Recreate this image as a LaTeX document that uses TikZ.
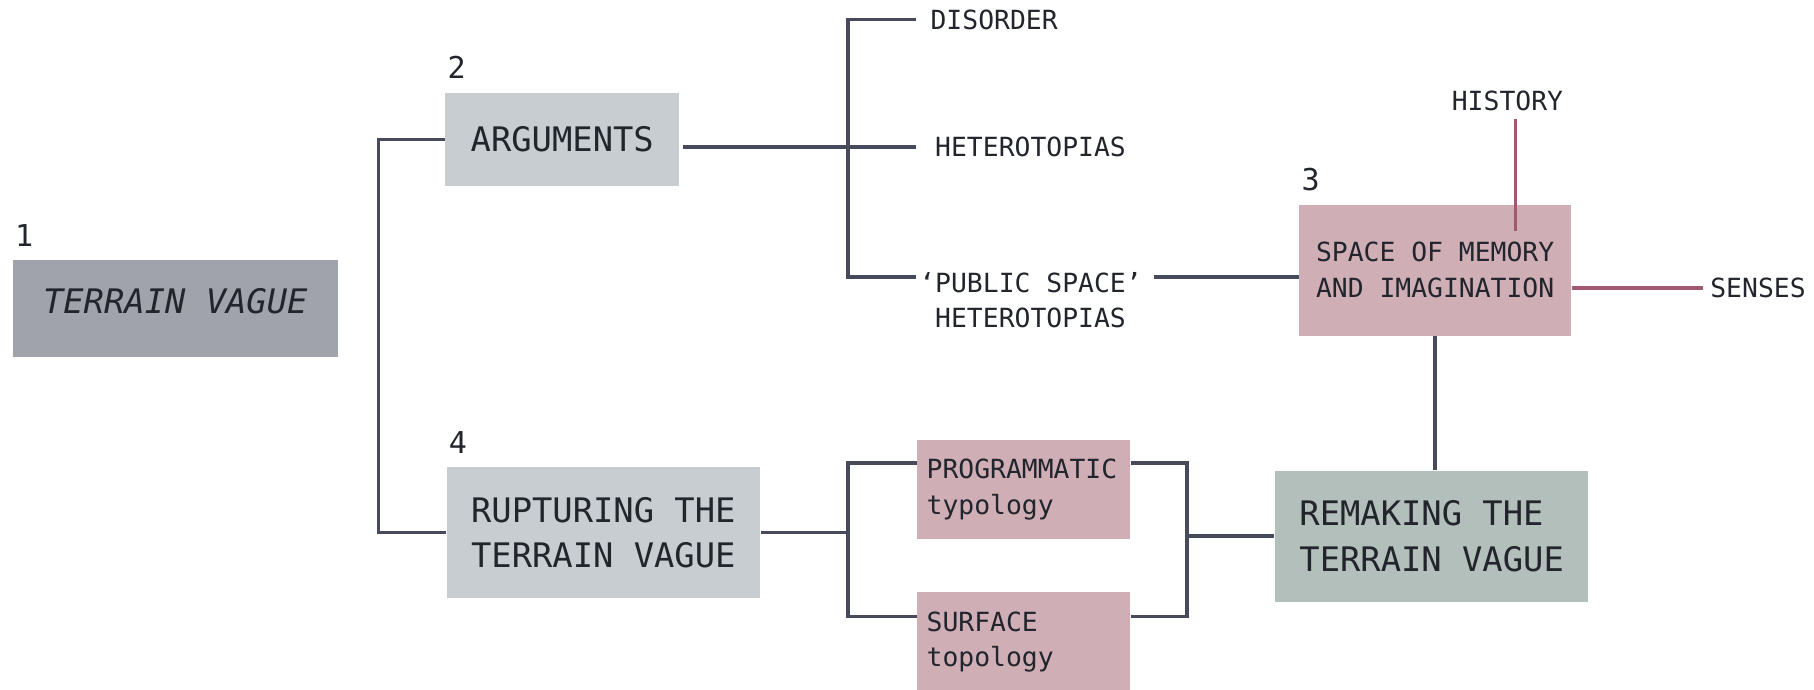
\documentclass[tikz,border=0pt]{standalone}
\usepackage{fontspec}
\setmonofont{DejaVu Sans Mono}
\usetikzlibrary{positioning}

\definecolor{ink}{HTML}{22252C}
\definecolor{wire}{HTML}{474A5A}
\definecolor{rose}{HTML}{A0596E}
\definecolor{tvGray}{HTML}{A0A3AB}
\definecolor{argGray}{HTML}{C8CDD1}
\definecolor{memPink}{HTML}{CFAEB6}
\definecolor{remGreen}{HTML}{B3BFBA}

\begin{document}
\begin{tikzpicture}
[x=0.5pt,y=-0.5pt,text=ink,font=\ttfamily,%
  lineLink/.style={-,line width=1.5pt,draw=wire},%
  lineAccent/.style={-,line width=1.2pt,draw=rose},%
  boxBase/.style={shape=rectangle,inner sep=0pt,align=left},%
  bigBox/.style={boxBase,font=\ttfamily\fontsize{14.6}{19.5}\selectfont},%
  smallBox/.style={boxBase,fill=memPink,font=\ttfamily\fontsize{11.4}{15.5}\selectfont},%
  tagText/.style={anchor=west,inner xsep=8pt,align=left,font=\ttfamily\fontsize{11.4}{15.5}\selectfont},%
  numText/.style={inner sep=0pt,font=\ttfamily\fontsize{13}{15}\selectfont}]
\useasboundingbox (0,0) rectangle (1568,596);
%% boxes
\foreach \nodename/\x/\y/\w/\h/\fillc/\txt in {
  tv/151.5/267/140.5/42/tvGray/{\itshape\rule[-7pt]{0pt}{7pt}TERRAIN VAGUE},
  arg/486/120.5/101/40.5/argGray/ARGUMENTS,
  rup/521.5/460.5/135.5/56.5/argGray/{RUPTURING THE\\TERRAIN VAGUE},
  rem/1237.5/463.5/135.5/56.5/remGreen/{REMAKING THE\\TERRAIN VAGUE}}
{
  \node (\nodename) at (\x,\y) [bigBox,fill=\fillc,minimum width=\w pt,minimum height=\h pt] {\txt};
}
\node (mem) at (1240.5,233.5) [smallBox,minimum width=117.5pt,minimum height=56.5pt] {SPACE OF MEMORY\\AND IMAGINATION};
\foreach \nodename/\x/\y/\txt in {
  prog/885/423/{PROGRAMMATIC\\typology},
  surf/885/555/{SURFACE\\topology}}
{
  \node (\nodename) at (\x,\y) [smallBox,text width=84pt,minimum width=92pt,minimum height=43pt] {\txt};
}
%% numbers
\foreach \num/\boxname in {1/tv,2/arg,3/mem,4/rup}
{
  \node (n\num) [numText,above right=5.5pt and 1pt of \boxname.north west] {\num};
}
%% free labels
\node (dis) at (792,17) [tagText,inner xsep=6pt] {DISORDER};
\node (het) at (792,127) [tagText] {HETEROTOPIAS};
\node (pub) at (792,259.5) [tagText] {\llap{‘}PUBLIC SPACE’\\HETEROTOPIAS};
\node (hist) at (1303,87) [tagText,anchor=center] {HISTORY};
\node (sen) at (1472,249) [tagText,inner xsep=3pt] {SENSES};
%% edges or lines
\coordinate (trunk) at (327,0);
\coordinate (hubA) at (733,0);
\coordinate (publine) at ([yshift=10pt]pub.west);
\coordinate (histend) at (1310,200);
\coordinate (hubB) at (733,400);
\coordinate (hubC) at (733,533);
\coordinate (hubD) at (1026,400);
\coordinate (hubE) at (1026,533);
\draw[lineLink] (arg.west) -| (trunk |- rup.west) -- (rup.west);
\draw[lineLink] ([xshift=1.5pt]arg.east |- het.west) -- (het.west);
\draw[lineLink] (dis.west) -| (hubA |- publine) -- (publine);
\draw[lineLink] ([xshift=-3pt]pub.east |- publine) -- (mem.west |- publine);
\draw[lineLink] (mem.south) -- (mem.south |- rem.north);
\draw[lineAccent] (hist.south -| histend) -- (histend);
\draw[lineAccent,line width=1.5pt] (mem.east |- sen.west) -- (sen.west);
\draw[lineLink] (rup.east) -- (rup.east -| hubB);
\draw[lineLink] (prog.west |- hubB) -- (hubB) -- (hubC) -- (surf.west |- hubC);
\draw[lineLink] (prog.east |- hubD) -- (hubD) -- (hubE) -- (surf.east |- hubE);
\draw[lineLink] (rem.west) -- (rem.west -| hubD);
\end{tikzpicture}
\end{document}
